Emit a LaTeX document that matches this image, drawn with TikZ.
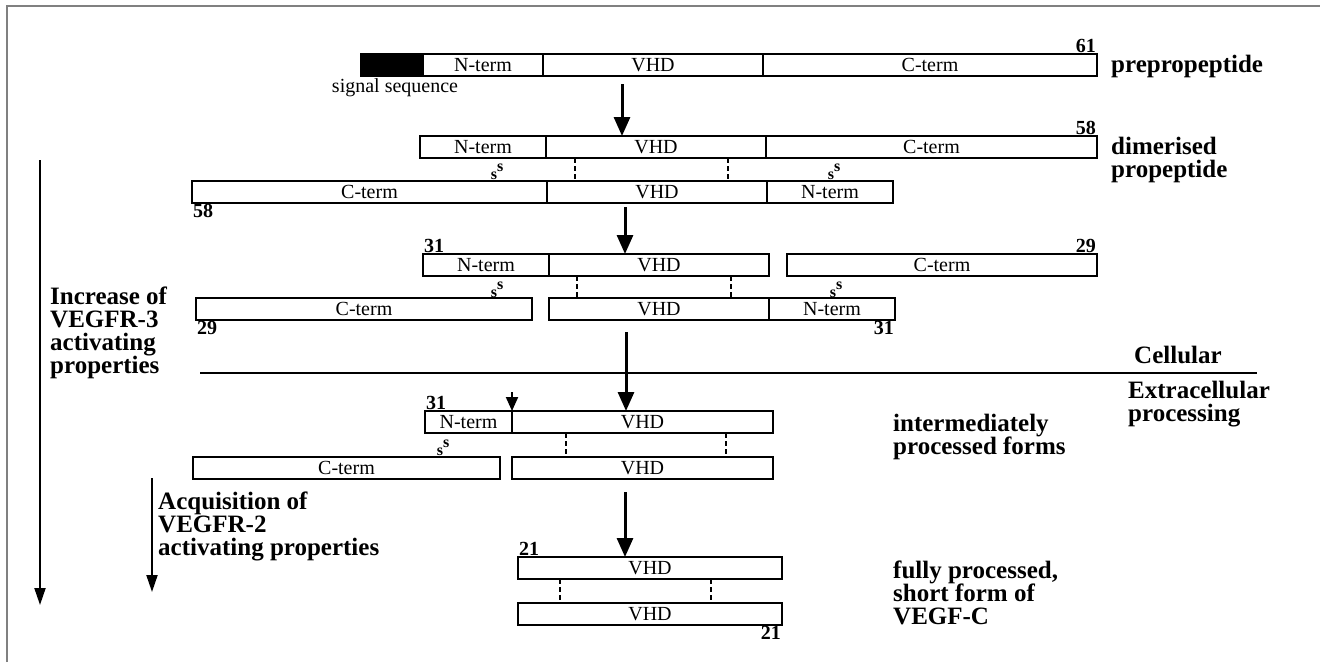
\documentclass[tikz,border=0pt]{standalone}
\usepackage{fontspec}
\setmainfont{Liberation Serif}
\usetikzlibrary{positioning, arrows.meta, calc}

\begin{document}
\begin{tikzpicture}[
    x=1pt, y=-1pt,
    seg/.style={rectangle, draw, line width=1.3pt, minimum height=22pt, inner sep=0pt, outer sep=0pt, font=\fontsize{20}{20}\selectfont},
    lbl/.style={font=\fontsize{25}{23}\selectfont\bfseries, align=left, anchor=west, inner sep=0pt},
    num/.style={font=\fontsize{20}{20}\selectfont\bfseries, inner sep=1pt},
    ss/.style={font=\fontsize{16}{16}\selectfont\bfseries, inner sep=0pt},
    flow/.style={line width=3pt, -{Triangle[width=16pt,length=19pt]}},
    cutarrow/.style={line width=2pt, -{Triangle[width=12pt,length=14pt]}},
    trend/.style={line width=2pt, -{Triangle[width=11pt,length=17pt]}},
    bond/.style={line width=1.2pt, dash pattern=on 5pt off 3pt},
]
\useasboundingbox (0,0) rectangle (1320,662);
\draw[gray, line width=2pt] (7,662) -- (7,6) -- (1320,6);

% prepropeptide
\node[seg, fill=black, minimum width=62, anchor=north west] (sig) at (361,54) {};
\node[seg, minimum width=120, right=0pt of sig] (pre-n) {N-term};
\node[seg, minimum width=220, right=0pt of pre-n] (pre-v) {VHD};
\node[seg, minimum width=334, right=0pt of pre-v] (pre-c) {C-term};
\node[num, above left=0pt of pre-c.north east] (n61) {61};
\node[font=\fontsize{20}{20}\selectfont] (sigtxt) at (395,88) {signal sequence};
\node[lbl] (l-pre) at (1111,66) {prepropeptide};

% dimerised propeptide
\node[seg, minimum width=126, anchor=north west] (d1-n) at (420,136) {N-term};
\node[seg, minimum width=220, right=0pt of d1-n] (d1-v) {VHD};
\node[seg, minimum width=331, right=0pt of d1-v] (d1-c) {C-term};
\node[num, above left=0pt of d1-c.north east] (n58a) {58};
\node[seg, minimum width=355, anchor=north west] (d2-c) at (192,181) {C-term};
\node[seg, minimum width=220, right=0pt of d2-c] (d2-v) {VHD};
\node[seg, minimum width=126, right=0pt of d2-v] (d2-n) {N-term};
\node[num, below right=0pt of d2-c.south west] (n58b) {58};
\draw[bond] ([xshift=29pt]d1-v.south west) -- ([xshift=28pt]d2-v.north west);
\draw[bond] ([xshift=-38pt]d1-v.south east) -- ([xshift=-39pt]d2-v.north east);
\node[ss] (ss1) at (497,172) {s\raisebox{8pt}{s}};
\node[ss] (ss2) at (834,172) {s\raisebox{8pt}{s}};
\node[lbl] (l-dim) at (1111,160) {dimerised\\propeptide};

% cleaved propeptide
\node[seg, minimum width=126, anchor=north west] (c1-n) at (423,254) {N-term};
\node[seg, minimum width=220, right=0pt of c1-n] (c1-v) {VHD};
\node[seg, minimum width=310, anchor=north east] (c1-c) at (1097,254) {C-term};
\node[num, above right=0pt of c1-n.north west] (n31a) {31};
\node[num, above left=0pt of c1-c.north east] (n29a) {29};
\node[seg, minimum width=336, anchor=north west] (c2-c) at (196,298) {C-term};
\node[seg, minimum width=220, anchor=north west] (c2-v) at (549,298) {VHD};
\node[seg, minimum width=126, right=0pt of c2-v] (c2-n) {N-term};
\node[num, below right=0pt of c2-c.south west] (n29b) {29};
\node[num, below left=0pt of c2-n.south east] (n31b) {31};
\draw[bond] ([xshift=28pt]c1-v.south west) -- ([xshift=28pt]c2-v.north west);
\draw[bond] ([xshift=-38pt]c1-v.south east) -- ([xshift=-38pt]c2-v.north east);
\node[ss] (ss3) at (497,290) {s\raisebox{8pt}{s}};
\node[ss] (ss4) at (836,290) {s\raisebox{8pt}{s}};

% membrane
\coordinate (m1) at (200,373);
\coordinate (m2) at (1257,373);
\draw[line width=1.3pt] (m1) -- (m2);
\node[lbl] (l-cell) at (1134,355) {Cellular};
\node[lbl] (l-extra) at (1128,404) {Extracellular\\processing};

% intermediately processed forms
\node[seg, minimum width=87, anchor=north west] (e1-n) at (425,411) {N-term};
\node[seg, minimum width=261, right=0pt of e1-n] (e1-v) {VHD};
\node[num, above right=0pt of e1-n.north west] (n31c) {31};
\node[seg, minimum width=307, anchor=north west] (e2-c) at (193,457) {C-term};
\node[seg, minimum width=261, anchor=north west] (e2-v) at (512,457) {VHD};
\draw[bond] ([xshift=54pt]e1-v.south west) -- ([xshift=54pt]e2-v.north west);
\draw[bond] ([xshift=-47pt]e1-v.south east) -- ([xshift=-47pt]e2-v.north east);
\node[ss] (ss5) at (443,448) {s\raisebox{8pt}{s}};
\node[lbl] (l-inter) at (893,437) {intermediately\\processed forms};

% fully processed
\node[seg, minimum width=264, anchor=north west] (f1-v) at (518,557) {VHD};
\node[seg, minimum width=264, anchor=north west] (f2-v) at (518,603) {VHD};
\node[num, above right=0pt of f1-v.north west] (n21a) {21};
\node[num, below left=0pt of f2-v.south east] (n21b) {21};
\draw[bond] ([xshift=42pt]f1-v.south west) -- ([xshift=42pt]f2-v.north west);
\draw[bond] ([xshift=-71pt]f1-v.south east) -- ([xshift=-71pt]f2-v.north east);
\node[lbl] (l-full) at (893,593) {fully processed,\\short form of\\VEGF-C};

% processing arrows
\coordinate (a1) at (622,84);
\coordinate (a2) at (625,207);
\coordinate (a3) at (626,332);
\coordinate (a4) at (625,492);
\coordinate (cut) at (512,392);
\draw[flow] (a1) -- (a1 |- d1-v.north);
\draw[flow] (a2) -- (a2 |- c1-v.north);
\draw[flow] (a3) -- (a3 |- e1-v.north);
\draw[flow] (a4) -- (a4 |- f1-v.north);
\draw[cutarrow] (cut) -- (e1-n.north east);

% activity trends
\coordinate (t3s) at (40,160);
\coordinate (t3e) at (40,605);
\coordinate (t2s) at (152,478);
\coordinate (t2e) at (152,592);
\draw[trend] (t3s) -- (t3e);
\draw[trend] (t2s) -- (t2e);
\node[lbl] (l-vr3) at (50,333) {Increase of\\VEGFR-3\\activating\\properties};
\node[lbl] (l-vr2) at (158,526) {Acquisition of\\VEGFR-2\\activating properties};
\end{tikzpicture}
\end{document}
